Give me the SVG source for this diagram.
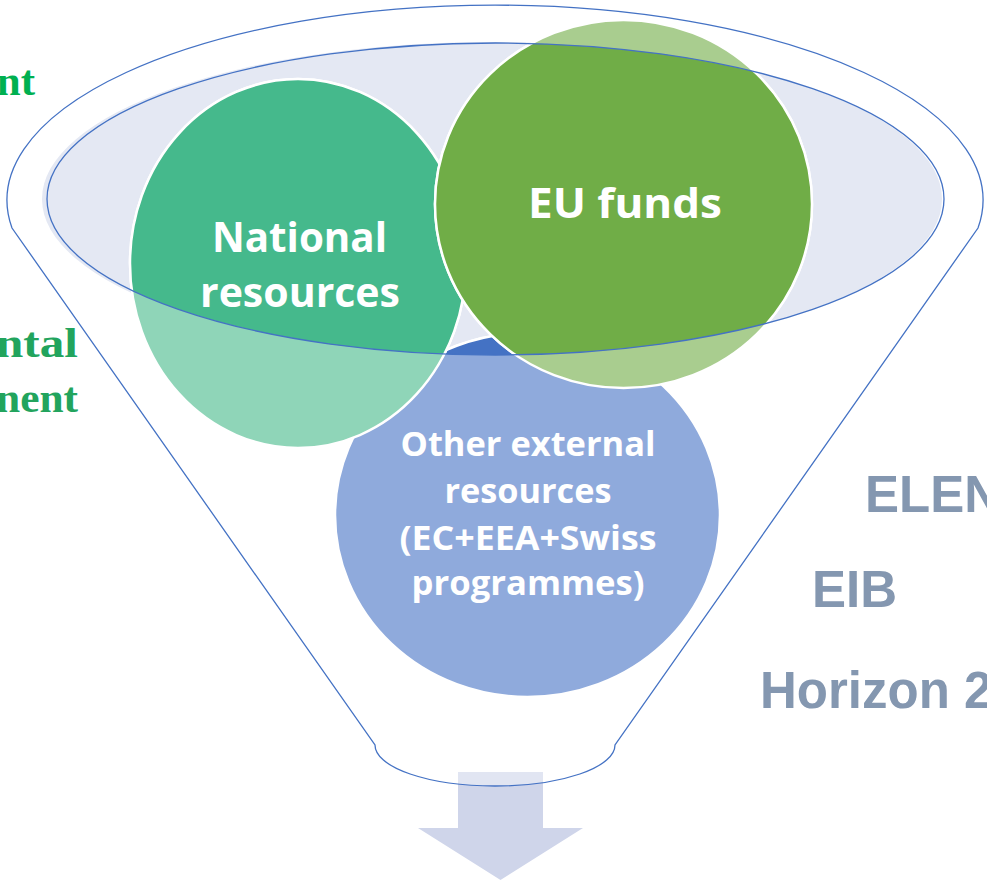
<svg xmlns="http://www.w3.org/2000/svg" width="987" height="880" viewBox="0 0 987 880">
  <style>
    .line { fill: none; stroke: #4472C4; stroke-width: 1.3; }
    .circ { stroke: #FFFFFF; stroke-width: 2.5; }
    .lbl { font-family: "Open Sans", "Noto Sans", sans-serif; font-weight: 700; fill: #FFFFFF; text-anchor: middle; }
    .side { font-family: "Liberation Sans", Arial, sans-serif; font-weight: 700; fill: #8497B0; font-size: 51px; }
    .serif { font-family: "Liberation Serif", "Times New Roman", serif; font-weight: 700; font-size: 43px; text-anchor: end; }
  </style>
  <defs>
    <clipPath id="innerClip">
      <ellipse cx="495.5" cy="199" rx="448.5" ry="156"/>
    </clipPath>
    <clipPath id="funnelClip">
      <path d="M 12 228 A 488 195 0 1 1 978 228 L 615 745 A 120 41 0 0 1 375 745 Z"/>
    </clipPath>
  </defs>
  <rect width="987" height="880" fill="#FFFFFF"/>

  <!-- left partial labels -->
  <g id="left-labels">
    <text class="serif" x="35" y="95" fill="#00B050">nt</text>
    <text class="serif" x="78" y="357" fill="#22A45D" textLength="82" lengthAdjust="spacingAndGlyphs">ntal</text>
    <text class="serif" x="78" y="412" fill="#22A45D" textLength="82" lengthAdjust="spacingAndGlyphs">nent</text>
  </g>

  <!-- inner ellipse fill -->
  <g id="inner-ellipse-fill">
    <ellipse cx="492" cy="199" rx="450" ry="157" fill="#E4E8F3"/>
  </g>

  <!-- Other external resources -->
  <g id="node-other">
    <ellipse class="circ" cx="527.5" cy="515" rx="192.5" ry="182" fill="#8FAADC"/>
    <ellipse class="circ" cx="527.5" cy="515" rx="192.5" ry="182" fill="#4472C4" clip-path="url(#innerClip)"/>
    <text class="lbl" font-size="34" x="528" y="456" textLength="255" lengthAdjust="spacingAndGlyphs">Other external</text>
    <text class="lbl" font-size="34" x="528" y="503" textLength="167" lengthAdjust="spacingAndGlyphs">resources</text>
    <text class="lbl" font-size="34" x="528" y="550" textLength="257" lengthAdjust="spacingAndGlyphs">(EC+EEA+Swiss</text>
    <text class="lbl" font-size="34" x="528" y="595" textLength="233" lengthAdjust="spacingAndGlyphs">programmes)</text>
  </g>

  <!-- National resources -->
  <g id="node-national">
    <ellipse class="circ" cx="298" cy="263.5" rx="168" ry="184.5" fill="#8FD5B8"/>
    <ellipse class="circ" cx="298" cy="263.5" rx="168" ry="184.5" fill="#45B98C" clip-path="url(#innerClip)"/>
    <text class="lbl" font-size="41" x="299.5" y="252" textLength="175" lengthAdjust="spacingAndGlyphs">National</text>
    <text class="lbl" font-size="41" x="300" y="307" textLength="200" lengthAdjust="spacingAndGlyphs">resources</text>
  </g>

  <!-- EU funds -->
  <g id="node-eu">
    <ellipse class="circ" cx="623.5" cy="204" rx="188.5" ry="184" fill="#A9CD8F"/>
    <ellipse class="circ" cx="623.5" cy="204" rx="188.5" ry="184" fill="#70AD47" clip-path="url(#innerClip)"/>
    <text class="lbl" font-size="41" x="625" y="218" textLength="194" lengthAdjust="spacingAndGlyphs">EU funds</text>
  </g>

  <!-- inner ellipse outline -->
  <g id="inner-ellipse">
    <ellipse class="line" cx="495.5" cy="199" rx="448.5" ry="156"/>
  </g>

  <!-- right labels -->
  <g id="right-labels">
    <text class="side" x="865" y="512">ELEN</text>
    <text class="side" x="812" y="607">EIB</text>
    <text class="side" x="760" y="708">Horizon 2</text>
  </g>

  <!-- output arrow -->
  <g id="connectors">
    <path d="M 458 772 H 543 V 828 H 583 L 500.5 880 L 418 828 H 458 Z" fill="#CFD5EA"/>
    <path d="M 458 772 H 543 V 828 H 583 L 500.5 880 L 418 828 H 458 Z" fill="#E1E5F2" clip-path="url(#funnelClip)"/>
  </g>

  <!-- funnel outline -->
  <g id="funnel">
    <path class="line" d="M 12 228 A 488 195 0 1 1 978 228 L 615 745 A 120 41 0 0 1 375 745 Z"/>
  </g>
</svg>
